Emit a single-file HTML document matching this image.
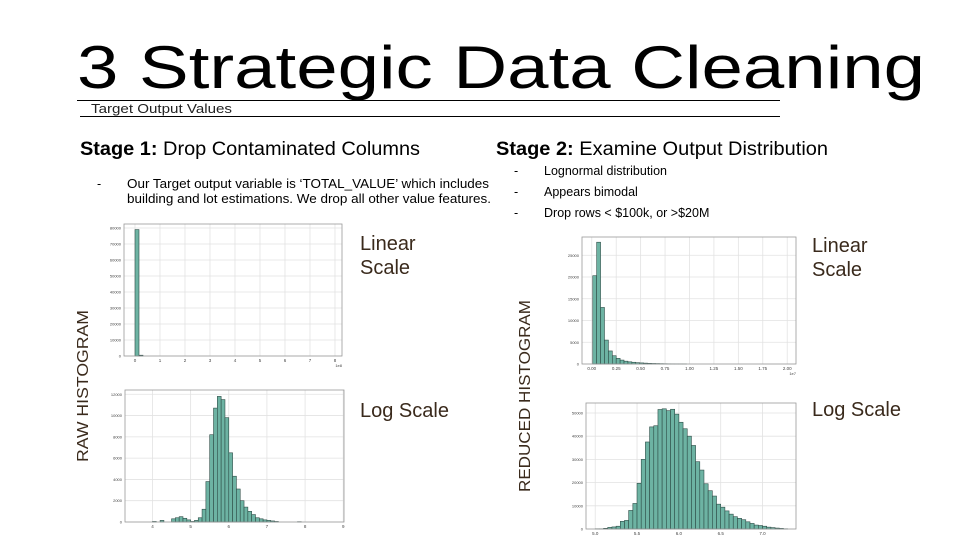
<!DOCTYPE html>
<html><head><meta charset="utf-8"><style>
html,body{margin:0;padding:0;background:#fff}
svg{display:block;font-family:"Liberation Sans",sans-serif}
</style></head><body>
<svg id="slide" width="960" height="540" viewBox="0 0 960 540" xmlns="http://www.w3.org/2000/svg">
<rect width="960" height="540" fill="#fff"/>
<text x="77" y="88" font-size="60" textLength="848" lengthAdjust="spacingAndGlyphs" fill="#000">3 Strategic Data Cleaning</text>
<line x1="77" y1="100.5" x2="780" y2="100.5" stroke="#000" stroke-width="1"/>
<line x1="80" y1="116.5" x2="780" y2="116.5" stroke="#000" stroke-width="1"/>
<text x="91" y="113" font-size="13" textLength="141" lengthAdjust="spacingAndGlyphs" fill="#222">Target Output Values</text>

<text x="80" y="155" font-size="19" textLength="340" lengthAdjust="spacingAndGlyphs" fill="#000"><tspan font-weight="bold">Stage 1:</tspan> Drop Contaminated Columns</text>
<text x="97" y="188" font-size="12.5">-</text>
<text x="127" y="188" font-size="12.5" textLength="362" lengthAdjust="spacingAndGlyphs">Our Target  output variable is ‘TOTAL_VALUE’ which includes</text>
<text x="127" y="203" font-size="12.5" textLength="364" lengthAdjust="spacingAndGlyphs">building and lot estimations.  We drop all other value features.</text>

<text x="496" y="155" font-size="19" textLength="332" lengthAdjust="spacingAndGlyphs" fill="#000"><tspan font-weight="bold">Stage 2:</tspan> Examine Output Distribution</text>
<text x="514" y="175" font-size="12.5">-<tspan x="544">Lognormal distribution</tspan></text>
<text x="514" y="196" font-size="12.5">-<tspan x="544">Appears bimodal</tspan></text>
<text x="514" y="217" font-size="12.5">-<tspan x="544">Drop rows &lt; $100k, or &gt;$20M</tspan></text>

<g fill="#3a2a1c" font-size="20">
<text x="360" y="250">Linear<tspan x="360" y="274">Scale</tspan></text>
<text x="360" y="417">Log Scale</text>
<text x="812" y="252">Linear<tspan x="812" y="276">Scale</tspan></text>
<text x="812" y="416">Log Scale</text>
</g>
<text transform="translate(88,386) rotate(-90)" text-anchor="middle" font-size="16" fill="#3a2a1c" textLength="152" lengthAdjust="spacingAndGlyphs">RAW HISTOGRAM</text>
<text transform="translate(530,396) rotate(-90)" text-anchor="middle" font-size="16" fill="#3a2a1c" textLength="192" lengthAdjust="spacingAndGlyphs">REDUCED HISTOGRAM</text>
<g id="charts"></g>
</svg>
<script>
// Chart 1: raw linear (x in 1e8)
const rawLinStarts = [0, 0.16];
const rawLinCounts = [79000, 500];
const rawLinXTicks = [0,1,2,3,4,5,6,7,8];
const rawLinYTicks = [0,10000,20000,30000,40000,50000,60000,70000,80000];
// Chart 2: raw log10
const rawLogStarts = [4.0,4.2,4.5,4.6,4.7,4.8,4.9,5.0,5.1,5.2,5.3,5.4,5.5,5.6,5.7,5.8,5.9,6.0,6.1,6.2,6.3,6.4,6.5,6.6,6.7,6.8,6.9,7.0,7.1,7.2,7.8];
const rawLogCounts = [50,150,300,400,500,350,200,50,150,400,1200,3800,8200,10700,11800,11500,9800,6500,4300,3100,2000,1400,1000,700,400,300,200,150,100,50,30];
const rawLogXTicks = [4,5,6,7,8,9];
const rawLogYTicks = [0,2000,4000,6000,8000,10000,12000];
// Chart 3: reduced linear (x in 1e7)
const redLinStarts = [0.01,0.05,0.09,0.13,0.17,0.21,0.25,0.29,0.33,0.37,0.41,0.45,0.49,0.53,0.57,0.61,0.65,0.69,0.73,0.77,0.81,0.85,0.89,0.93];
const redLinCounts = [20300,28000,13000,5500,3000,1900,1300,900,650,500,400,300,250,200,150,120,100,80,60,50,40,30,25,20];
const redLinXTicks = [0,0.25,0.5,0.75,1,1.25,1.5,1.75,2];
const redLinYTicks = [0,5000,10000,15000,20000,25000];
// Chart 4: reduced log10
const redLogStarts = [5.00,5.05,5.10,5.15,5.20,5.25,5.30,5.35,5.40,5.45,5.50,5.55,5.60,5.65,5.70,5.75,5.80,5.85,5.90,5.95,6.00,6.05,6.10,6.15,6.20,6.25,6.30,6.35,6.40,6.45,6.50,6.55,6.60,6.65,6.70,6.75,6.80,6.85,6.90,6.95,7.00,7.05,7.10,7.15,7.20,7.25];
const redLogCounts = [100,100,300,700,900,1200,3300,3700,8000,11000,19700,30000,37500,44000,44500,51500,51800,51000,51600,49500,46000,43200,40000,36000,29000,25400,19500,16500,14200,10700,9400,7800,6400,5300,4600,4000,3100,2400,1700,1500,1200,800,600,400,250,100];
const redLogXTicks = [5.0,5.5,6.0,6.5,7.0];
const redLogYTicks = [0,10000,20000,30000,40000,50000];

const NS = "http://www.w3.org/2000/svg";
const root = document.getElementById('charts');
function mk(tag, attrs, parent){
  const e = document.createElementNS(NS, tag);
  for (const k in attrs) e.setAttribute(k, attrs[k]);
  parent.appendChild(e); return e;
}
function hist(name, frame, xd, yd, starts, counts, bw, xt, yt, fmtX, fmtY, exp){
  const g = mk('g', {}, root);
  
  
  const sx = v => frame.x0 + (v - xd[0])/(xd[1]-xd[0])*(frame.x1-frame.x0);
  const sy = v => frame.y1 - (v - yd[0])/(yd[1]-yd[0])*(frame.y1-frame.y0);
  xt.forEach(t => {
    const l = mk('line', {x1:sx(t), x2:sx(t), y1:frame.y0, y2:frame.y1, stroke:'#e2e2e2','stroke-width':0.8}, g);
    
    
    const tx = mk('text', {x:sx(t), y:frame.y1+6, 'font-size':4.5, 'text-anchor':'middle', fill:'#444'}, g);
    
    
    tx.textContent = fmtX(t);
  });
  yt.forEach(t => {
    const l = mk('line', {x1:frame.x0, x2:frame.x1, y1:sy(t), y2:sy(t), stroke:'#e2e2e2','stroke-width':0.8}, g);
    
    
    const tx = mk('text', {x:frame.x0-3, y:sy(t)+1.5, 'font-size':4, 'text-anchor':'end', fill:'#444'}, g);
    
    
    tx.textContent = fmtY(t);
  });
  starts.forEach((s, i) => {
    const x = sx(s), w = sx(s+bw) - x, y = sy(counts[i]);
    const r = mk('rect', {x:x, y:y, width:w, height:Math.max(0, frame.y1-y), fill:'#6db3a3', stroke:'#2e4d47', 'stroke-width':0.6}, g);
    
    
  });
  const f = mk('rect', {x:frame.x0, y:frame.y0, width:frame.x1-frame.x0, height:frame.y1-frame.y0, fill:'none', stroke:'#999', 'stroke-width':0.8}, g);
  
  
  if (exp){
    const e = mk('text', {x:frame.x1, y:frame.y1+11, 'font-size':4, 'text-anchor':'end', fill:'#444'}, g);
    
    
    e.textContent = exp;
  }
}
const intF = v => String(v);
hist('raw-linear-histogram', {x0:124,x1:342,y0:224,y1:356}, [-0.44,8.28], [0,82500], rawLinStarts, rawLinCounts, 0.16, rawLinXTicks, rawLinYTicks, intF, intF, '1e8');
hist('raw-log-histogram', {x0:125,x1:344,y0:390,y1:522}, [3.28,9.02], [0,12400], rawLogStarts, rawLogCounts, 0.1, rawLogXTicks, rawLogYTicks, intF, intF, '');
hist('reduced-linear-histogram', {x0:582,x1:796,y0:237,y1:364}, [-0.1,2.09], [0,29200], redLinStarts, redLinCounts, 0.04, redLinXTicks, redLinYTicks, v=>v.toFixed(2), intF, '1e7');
hist('reduced-log-histogram', {x0:586,x1:796,y0:403,y1:529}, [4.89,7.40], [0,54300], redLogStarts, redLogCounts, 0.05, redLogXTicks, redLogYTicks, v=>v.toFixed(1), intF, '');
</script>
</body></html>
